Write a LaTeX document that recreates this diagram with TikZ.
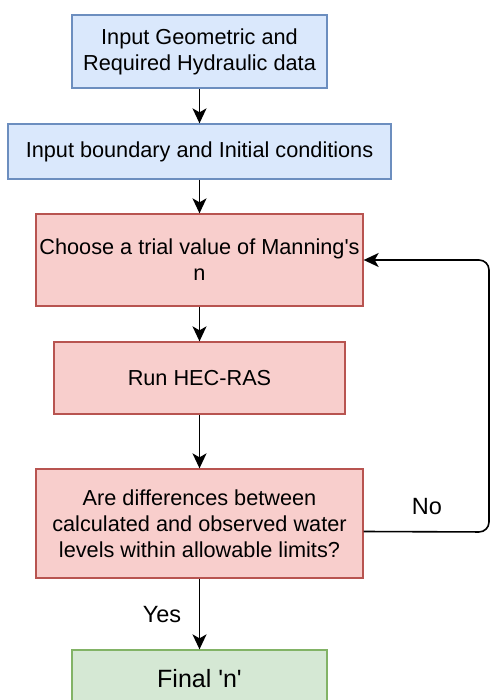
\documentclass[tikz,border=0pt]{standalone}
\usepackage{fontspec}
\setmainfont{Liberation Sans}[Ligatures=TeXOff]
\usetikzlibrary{arrows.meta}
\definecolor{bfill}{HTML}{DAE8FC}
\definecolor{bline}{HTML}{6C8EBF}
\definecolor{rfill}{HTML}{F8CECC}
\definecolor{rline}{HTML}{B85450}
\definecolor{gfill}{HTML}{D5E8D4}
\definecolor{gline}{HTML}{82B366}
\tikzset{
  box/.style={rectangle, inner sep=0pt, line width=1.3pt, align=center,
    font=\fontsize{21.7}{26}\selectfont},
  bluebox/.style={box, fill=bfill, draw=bline},
  redbox/.style={box, fill=rfill, draw=rline},
  greenbox/.style={box, fill=gfill, draw=gline},
  arr/.style={line width=1.6pt, -{Stealth[length=15pt,width=14pt,inset=4pt]}},
  lbl/.style={font=\fontsize{23.5}{28}\selectfont, inner sep=0pt}
}
\begin{document}
\begin{tikzpicture}[x=1pt,y=-1pt]
\useasboundingbox (0,0) rectangle (490,700);
\clip (0,0) rectangle (490,700);
\node[bluebox, minimum width=255pt, minimum height=73pt] (n1) at (199.5,51.5) {Input Geometric and\\Required Hydraulic data};
\node[bluebox, minimum width=383pt, minimum height=55pt] (n2) at (199.5,151.5) {Input boundary and Initial conditions};
\node[redbox, minimum width=327pt, minimum height=92pt] (n3) at (199.5,260) {Choose a trial value of Manning's\\n};
\node[redbox, minimum width=291pt, minimum height=72pt] (n4) at (199.5,378) {Run HEC-RAS};
\node[redbox, minimum width=327pt, minimum height=109pt] (n5) at (199.5,523.5) {Are differences between\\calculated and observed water\\levels within allowable limits?};
\node[greenbox, minimum width=255pt, minimum height=57pt, font=\fontsize{25}{30}\selectfont] (n6) at (199.5,678.5) {Final 'n'};
\draw[arr] (n1) -- (n2);
\draw[arr] (n2) -- (n3);
\draw[arr] (n3) -- (n4);
\draw[arr] (n4) -- (n5);
\draw[arr] (n5) -- (n6);
\coordinate (c1) at (489,532);
\coordinate (c2) at (489,260);
\draw[arr, rounded corners=10pt] ([yshift=-8pt]n5.east) -- (c1) -- (c2) -- (n3.east);
\node[lbl] (no) at (427,507) {No};
\node[lbl] (yes) at (162,615) {Yes};
\end{tikzpicture}
\end{document}
